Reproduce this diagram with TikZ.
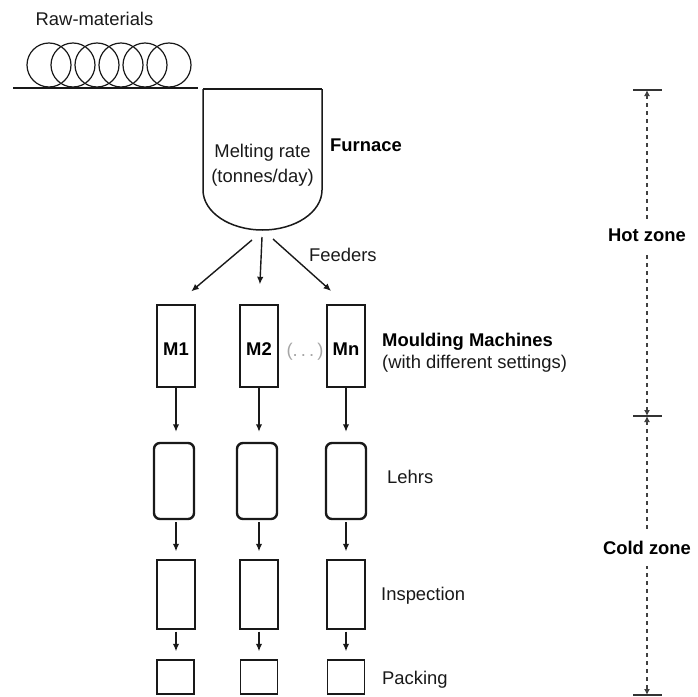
\documentclass[tikz,border=0pt]{standalone}
\usepackage{fontspec}
\setmainfont{Liberation Sans}
\usetikzlibrary{arrows.meta}
\begin{document}
\begin{tikzpicture}[x=1pt,y=-1pt,
  lbl/.style={font=\fontsize{18.4}{21}\selectfont, text=black!90, inner sep=0pt},
  bl/.style={font=\fontsize{18.4}{21}\selectfont\bfseries, text=black, inner sep=0pt},
  mbox/.style={draw=black!90, line width=1.4pt, minimum width=38pt, minimum height=82pt, inner sep=0pt},
  lehrbox/.style={draw=black!90, line width=2.4pt, rounded corners=6pt, minimum width=40pt, minimum height=76pt, inner sep=0pt},
  ibox/.style={draw=black!90, line width=1.4pt, minimum width=38pt, minimum height=69pt, inner sep=0pt},
  pbox/.style={draw=black!90, line width=1.4pt, minimum width=37pt, minimum height=34pt, inner sep=0pt},
  arr/.style={draw=black!90, line width=1.4pt, -{Latex[length=7.5pt,width=6.5pt]}},
  zone/.style={draw=black!75, line width=1.7pt, dash pattern=on 4pt off 4pt},
  zonetip/.style={{Latex[length=6pt,width=6pt]}-{Latex[length=6pt,width=6pt]}},
  bar/.style={draw=black!80, line width=1.6pt},
]
\useasboundingbox (0,0) rectangle (698,696);

% raw materials
\node[lbl, anchor=base] (raw) at (94.5,25) {Raw-materials};
\foreach \cx in {49,73,97,121,145,169}
  \draw[black!90, line width=1.2pt] (\cx,65) circle[radius=22pt];
\draw[black!90, line width=1.6pt] (13,88) -- (198,88);

% furnace
\draw[black!90, line width=1.8pt] (203,89) -- (322,89);
\draw[black!90, line width=1.5pt] (203,89) -- (203,190)
  arc[start angle=180, end angle=360, x radius=59.5pt, y radius=40pt] -- (322,89);
\node[lbl, anchor=base] (melt1) at (262.5,157) {Melting rate};
\node[lbl, anchor=base] (melt2) at (262.5,182) {(tonnes/day)};
\node[bl, anchor=base west] (furnace) at (330,151) {Furnace};
\coordinate (f1) at (252,240);
\coordinate (f2) at (262,237);
\coordinate (f3) at (273,239);
\node[lbl, anchor=base west] (feeders) at (309,261) {Feeders};

% moulding machines
\node[mbox] (m1) at (176,346) {};
\node[mbox] (m2) at (259,346) {};
\node[mbox] (m3) at (346,346) {};
\node[bl, anchor=base] at (176,355) {M1};
\node[bl, anchor=base] at (259,355) {M2};
\node[bl, anchor=base] at (346,355) {Mn};
\node[lbl, text=black!35, anchor=base] (dots) at (305,356) {(.\,.\,.\,)};
\node[bl, anchor=base west] (mould) at (382,346) {Moulding Machines};
\node[lbl, anchor=base west] (mould2) at (382,368) {(with different settings)};

\draw[arr, shorten >=20pt] (f1) -- (m1.north);
\draw[arr, shorten >=20pt] (f2) -- (m2.north);
\draw[arr, shorten >=20pt] (f3) -- (m3.north);

% lehrs
\node[lehrbox] (l1) at (174,481) {};
\node[lehrbox] (l2) at (257,481) {};
\node[lehrbox] (l3) at (346,481) {};
\node[lbl, anchor=base west] (lehrs) at (387,483) {Lehrs};

% inspection
\node[ibox] (i1) at (176,594.5) {};
\node[ibox] (i2) at (259,594.5) {};
\node[ibox] (i3) at (346,594.5) {};
\node[lbl, anchor=base west] (insp) at (381,600) {Inspection};

% packing
\node[pbox] (p1) at (175.5,677) {};
\node[pbox] (p2) at (259,677) {};
\node[pbox] (p3) at (346,677) {};
\node[lbl, anchor=base west] (pack) at (382,684) {Packing};

\foreach \a/\b in {m1/l1, m2/l2, m3/l3}
  \draw[arr, shorten >=10pt] (\a.south) -- (\a.south |- \b.north);
\foreach \a/\b in {l1/i1, l2/i2, l3/i3}
  \draw[arr, shorten <=2pt, shorten >=8pt] (\b.north |- \a.south) -- (\b.north);
\foreach \a/\b in {i1/p1, i2/p2, i3/p3}
  \draw[arr, shorten <=2pt, shorten >=8pt] (\a.south) -- (\a.south |- \b.north);

% zones
\coordinate (zt) at (647,90);
\coordinate (zm) at (647,416);
\coordinate (zb) at (647,695);
\draw[bar] (zt) ++(-14,0) -- ++(29,0);
\draw[bar] (zm) ++(-14,0) -- ++(29,0);
\draw[bar] (zb) ++(-14,0) -- ++(29,0);
\draw[zone, zonetip] (zt) -- node[pos=0.445, bl, fill=white, inner xsep=2pt, inner ysep=10pt] (hot) {Hot zone} (zm);
\draw[zone, zonetip] (zm) -- node[pos=0.473, bl, fill=white, inner xsep=1pt, inner ysep=11pt] (cold) {Cold zone} (zb);
\end{tikzpicture}
\end{document}
